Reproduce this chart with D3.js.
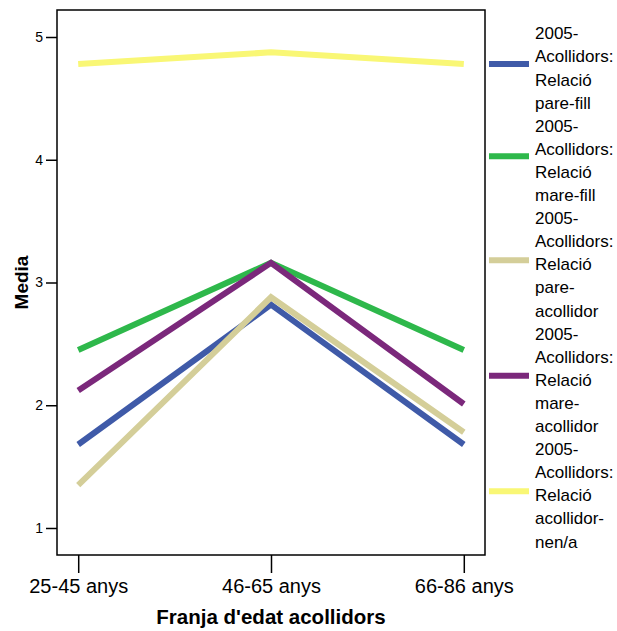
<!DOCTYPE html>
<html><head><meta charset="utf-8">
<script src="https://cdn.jsdelivr.net/npm/d3@7"></script>
<style>body{margin:0;background:#fff}svg{display:block}text{font-family:"Liberation Sans",Arial,Helvetica,sans-serif}</style>
</head><body>
<svg id="c" width="617" height="631"></svg>
<script>
const categories = ["25-45 anys", "46-65 anys", "66-86 anys"];
const seriesNames = [
  ["2005-", "Acollidors:", "Relació", "pare-fill"],
  ["2005-", "Acollidors:", "Relació", "mare-fill"],
  ["2005-", "Acollidors:", "Relació", "pare-", "acollidor"],
  ["2005-", "Acollidors:", "Relació", "mare-", "acollidor"],
  ["2005-", "Acollidors:", "Relació", "acollidor-", "nen/a"]
];
const parefill = [1.68, 2.82, 1.68];
const marefill = [2.45, 3.16, 2.45];
const pareacollidor = [1.35, 2.88, 1.78];
const mareacollidor = [2.12, 3.16, 2.01];
const acollidornen = [4.78, 4.875, 4.78];
const seriesValues = [parefill, marefill, pareacollidor, mareacollidor, acollidornen];
const colors = ["#3f5aa8", "#2eb84b", "#d4ce99", "#7b287b", "#f9f775"];
const yTicks = [1, 2, 3, 4, 5];
const xTitle = "Franja d'edat acollidors";
const yTitle = "Media";

const svg = d3.select("#c");
const L = 57, R = 485, T = 10, B = 555;
const x = d3.scalePoint().domain(categories).range([L, R]).padding(0.11);
const y = d3.scaleLinear().domain([0.78, 5.22]).range([B, T]);

// lines
const line = d3.line().x((d, i) => x(categories[i])).y(d => y(d));
seriesValues.forEach((vals, k) => {
  svg.append("path").attr("d", line(vals)).attr("fill", "none")
    .attr("stroke", colors[k]).attr("stroke-width", 6)
    .attr("stroke-linejoin", "miter").attr("stroke-linecap", "butt");
});

// frame
svg.append("rect").attr("x", L).attr("y", T).attr("width", R - L).attr("height", B - T)
  .attr("fill", "none").attr("stroke", "#000").attr("stroke-width", 1.5);

// y axis
const ya = svg.append("g").attr("transform", `translate(${L},0)`)
  .call(d3.axisLeft(y).tickValues(yTicks).tickSize(11).tickPadding(3).tickFormat(d3.format("d")));
ya.select(".domain").remove();
ya.selectAll("line").attr("stroke", "#000").attr("stroke-width", 1.5);
ya.selectAll("text").attr("font-size", 14).attr("fill", "#000").attr("font-family", "Liberation Sans, Arial, sans-serif");

// x axis
const xa = svg.append("g").attr("transform", `translate(0,${B})`)
  .call(d3.axisBottom(x).tickSize(18).tickPadding(6));
xa.select(".domain").remove();
xa.selectAll("line").attr("stroke", "#000").attr("stroke-width", 1.5);
xa.selectAll("text").attr("font-size", 20).attr("fill", "#000").attr("font-family", "Liberation Sans, Arial, sans-serif");

// titles
svg.append("text").attr("x", (L + R) / 2).attr("y", 624).attr("text-anchor", "middle")
  .attr("font-size", 20.5).attr("font-weight", "bold").text(xTitle);
svg.append("text").attr("transform", `translate(28,${(T + B) / 2}) rotate(-90)`).attr("text-anchor", "middle")
  .attr("font-size", 19).attr("font-weight", "bold").text(yTitle);

// legend
const lh = 23.1;
let base = 39.3;
seriesNames.forEach((lines, k) => {
  const g = svg.append("g");
  lines.forEach((t, j) => {
    g.append("text").attr("x", 535).attr("y", base + j * lh).attr("font-size", 17).attr("fill", "#000").text(t);
  });
  const top = base - 11, bot = base + (lines.length - 1) * lh;
  const cy = (top + bot) / 2 - 4.5;
  g.append("line").attr("x1", 489).attr("x2", 529).attr("y1", cy).attr("y2", cy)
    .attr("stroke", colors[k]).attr("stroke-width", 6);
  base += lines.length * lh;
});
</script>
</body></html>
